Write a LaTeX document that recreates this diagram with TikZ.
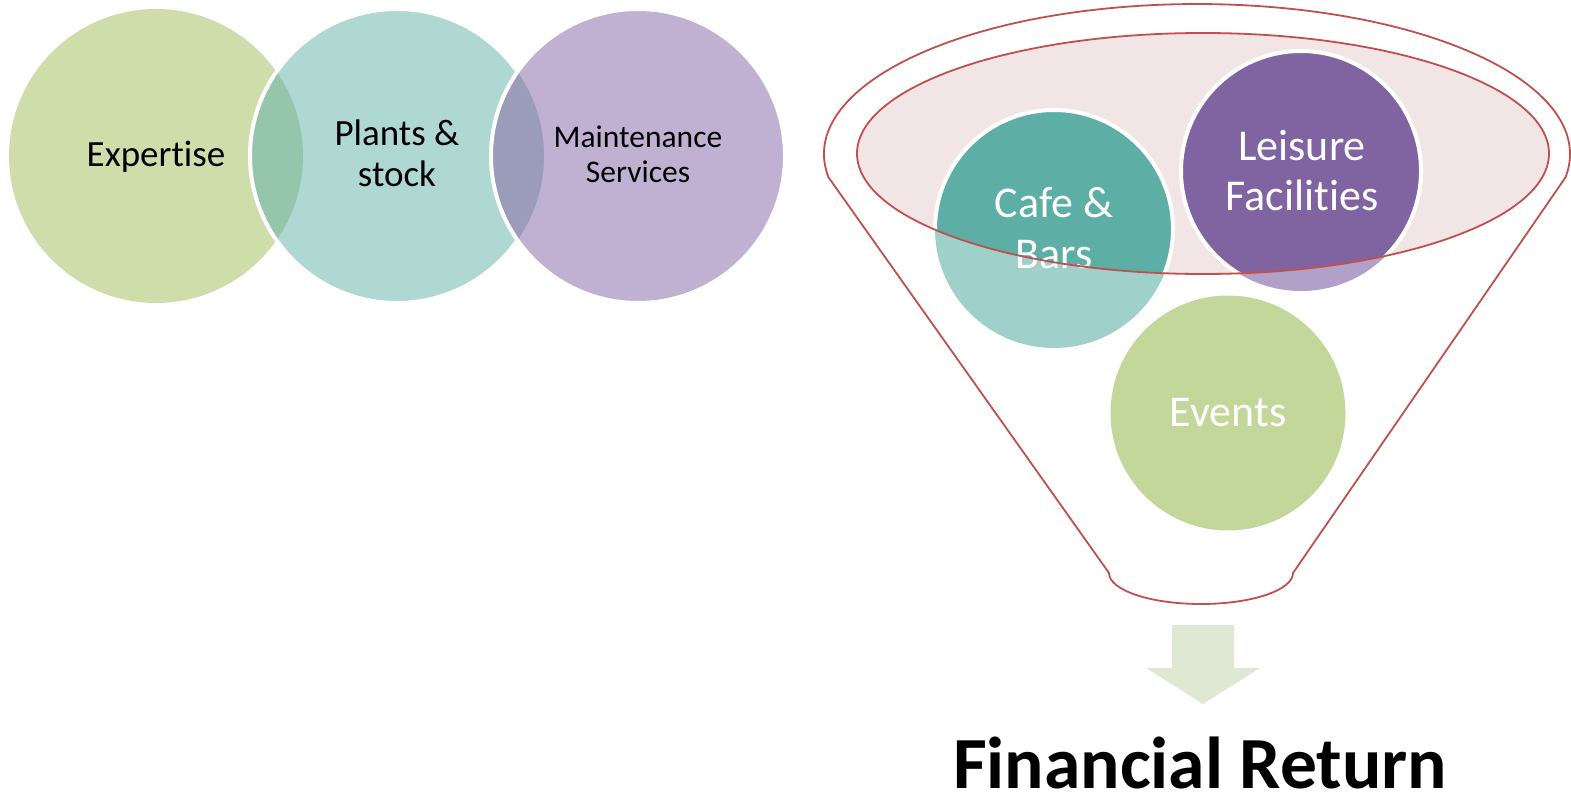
\documentclass[tikz,border=0pt]{standalone}
\usepackage{fontspec}
\setmainfont{Carlito}[Ligatures={NoCommon}]
\definecolor{cExp}{HTML}{CFDDAB}
\definecolor{cPla}{HTML}{AFD8D3}
\definecolor{cMai}{HTML}{C0B1D3}
\definecolor{cOvGT}{HTML}{95C5AA}
\definecolor{cOvTP}{HTML}{9A9CBA}
\definecolor{cCafeD}{HTML}{5DAFA6}
\definecolor{cCafeL}{HTML}{A0D0CA}
\definecolor{cLeiD}{HTML}{8064A2}
\definecolor{cLeiL}{HTML}{B1A0C7}
\definecolor{cEvt}{HTML}{C4D79B}
\definecolor{cPink}{HTML}{F2E5E5}
\definecolor{cRed}{HTML}{C0504D}
\definecolor{cArrow}{HTML}{DFE8D3}
\tikzset{
  redline/.style={draw=cRed, line width=1.8pt},
  whiteborder/.style={draw=white, line width=4pt},
  darklabel/.style={text=black, align=center, inner sep=0pt},
  lightlabel/.style={text=white, align=center, inner sep=0pt},
}
\begin{document}
\begin{tikzpicture}[x=1pt,y=-1pt]
\useasboundingbox (0,0) rectangle (1571,799);
% ---------- left: three overlapping circles ----------
\fill[cExp] (156,156) circle (147);
\fill[cPla] (397,156) circle (147);
\begin{scope}
  \clip (397,156) circle (147);
  \fill[cOvGT] (156,156) circle (147);
\end{scope}
\draw[whiteborder] (397,156) circle (147);
\fill[cMai] (638,156) circle (147);
\begin{scope}
  \clip (638,156) circle (147);
  \fill[cOvTP] (397,156) circle (147);
\end{scope}
\draw[whiteborder] (638,156) circle (147);
\node[darklabel, anchor=base, font=\fontsize{37}{41}\selectfont] (expertise) at (156,167) {Expertise};
\node[darklabel, font=\fontsize{37}{41}\selectfont] (plants) at (397,153) {Plants \&\\stock};
\node[darklabel, font=\fontsize{31.5}{35}\selectfont] (maint) at (638,154.5) {Maintenance\\Services};
% ---------- right: funnel ----------
\draw[redline, line join=round] (828.6,177.5) arc[start angle=171, end angle=369, x radius=373, y radius=150]
  -- (1293,573) arc[start angle=0, end angle=180, x radius=92, y radius=31] -- cycle;
\fill[cPink] (1203,153.5) ellipse [x radius=346, y radius=120.5];
% Cafe & Bars
\fill[cCafeL] (1054,229) circle (119);
\begin{scope}
  \clip (1203,153.5) ellipse [x radius=346, y radius=120.5];
  \fill[cCafeD] (1054,229) circle (119);
  \draw[whiteborder] (1054,229) circle (119);
\end{scope}
% Leisure Facilities
\fill[cLeiL] (1301,171) circle (120);
\begin{scope}
  \clip (1203,153.5) ellipse [x radius=346, y radius=120.5];
  \fill[cLeiD] (1301,171) circle (120);
  \draw[whiteborder] (1301,171) circle (120);
\end{scope}
% Events
\fill[cEvt] (1228,413) circle (117.5);
\node[lightlabel, font=\fontsize{44}{51}\selectfont] (cafe) at (1054,228) {Cafe \&\\Bars};
\node[lightlabel, font=\fontsize{44}{50}\selectfont] (leisure) at (1302,170.5) {Leisure\\Facilities};
\node[lightlabel, anchor=base, font=\fontsize{44}{50}\selectfont] (events) at (1228,426) {Events};
\draw[redline] (1203,153.5) ellipse [x radius=346, y radius=120.5];
% arrow
\fill[cArrow] (1172,625) -- (1234,625) -- (1234,668) -- (1260,668) -- (1203,704) -- (1146,668) -- (1172,668) -- cycle;
\node[darklabel, anchor=base, font=\fontsize{73.5}{80}\selectfont\bfseries] (fin) at (1200,788) {Financial Return};
\end{tikzpicture}
\end{document}
